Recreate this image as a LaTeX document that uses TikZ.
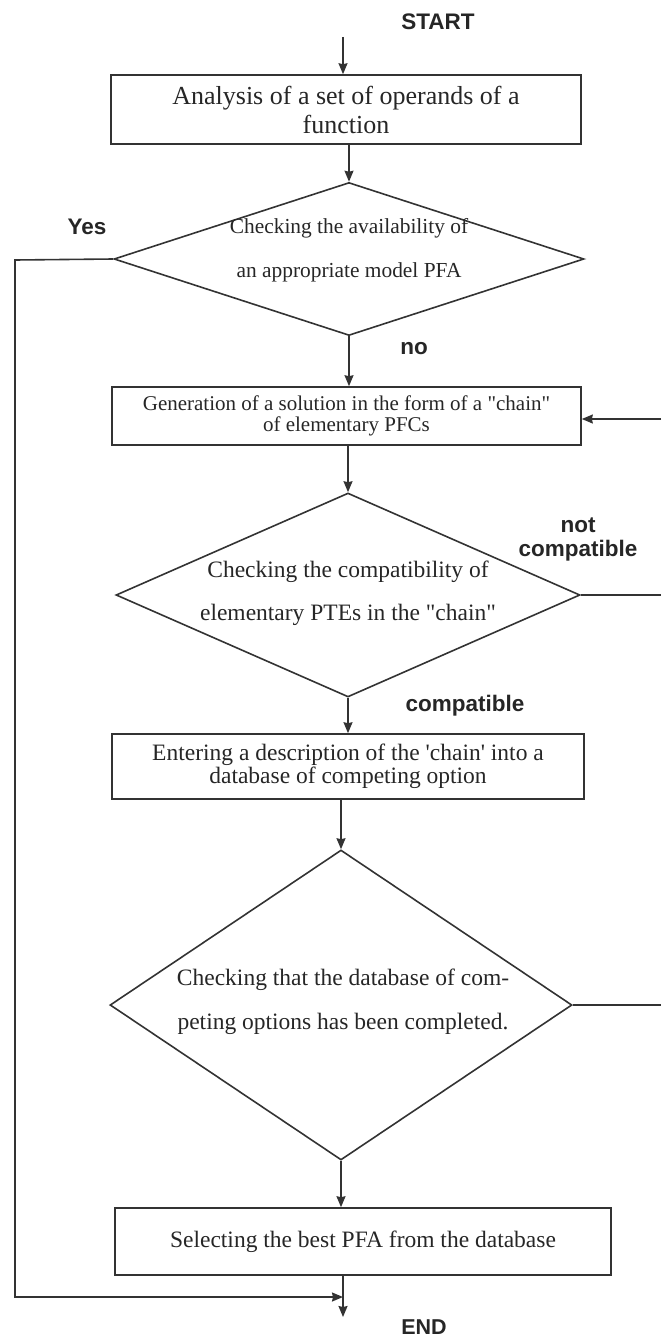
\documentclass[tikz,border=0pt]{standalone}
\usepackage{fontspec}
% straight quotes are wanted, so the TeX input mapping is switched off
\setmainfont{Liberation Serif}[Ligatures=TeXOff]
\newfontfamily\labelfont{Liberation Sans}
\usetikzlibrary{shapes.geometric,arrows.meta}
\begin{document}
\begin{tikzpicture}[x=1pt,y=-1pt,
  line width=1.6pt, draw=black!80,
  arr/.style={-{Stealth[length=11pt,width=9pt,inset=1pt]}},
  procbox/.style={draw, rectangle, inner sep=0pt, align=center},
  decision/.style={draw, diamond, inner sep=0pt},
  dtext/.style={align=center, inner sep=0pt, text=black!85},
  lbl/.style={font=\labelfont\bfseries\fontsize{22.5}{26}\selectfont, text=black!85, inner sep=0pt}]
\useasboundingbox (0,0) rectangle (661,1338);

% process steps
\node[procbox, minimum width=470pt, minimum height=69pt, text=black!85,
      font=\fontsize{26}{29}\selectfont] (b1) at (346,109.5)
  {Analysis of a set of operands of a\\function};
\node[procbox, minimum width=469pt, minimum height=58pt, text=black!85,
      font=\fontsize{21}{21}\selectfont] (b2) at (346.5,416)
  {Generation of a solution in the form of a "chain"\\of elementary PFCs};
\node[procbox, minimum width=472pt, minimum height=65pt, text=black!85,
      font=\fontsize{23.5}{23.5}\selectfont] (b3) at (348,766.5)
  {Entering a description of the 'chain' into a\\database of competing option};
\node[procbox, minimum width=496pt, minimum height=67pt, text=black!85,
      font=\fontsize{23.5}{26}\selectfont] (b4) at (363,1241.5)
  {Selecting the best PFA from the database};

% decisions (outline) and their texts
\node[decision, minimum width=470pt, minimum height=153pt] (d1) at (349,259) {};
\node[dtext, font=\fontsize{21.4}{44}\selectfont] (d1t) at (349,250)
  {Checking the availability of\\an appropriate model PFA};
\node[decision, minimum width=464pt, minimum height=204pt] (d2) at (348,595) {};
\node[dtext, font=\fontsize{23.5}{43}\selectfont] (d2t) at (348,593.5)
  {Checking the compatibility of\\elementary PTEs in the "chain"};
\node[decision, minimum width=462pt, minimum height=310pt] (d3) at (341,1005) {};
\node[dtext, font=\fontsize{23.5}{44}\selectfont] (d3t) at (343,1002)
  {Checking that the database of com-\\peting options has been completed.};

% labels
\node[lbl] (start) at (438,22) {START};
\node[lbl, font=\labelfont\bfseries\fontsize{21.5}{24}\selectfont] (end) at (424,1327) {END};
\node[lbl] (yes) at (87,227) {Yes};
\node[lbl] (no) at (414,349) {no};
\node[lbl, align=center, font=\labelfont\bfseries\fontsize{22.5}{24}\selectfont] (notc) at (578,539) {not\\compatible};
\node[lbl] (comp) at (465,706) {compatible};

% free ends of connectors
\coordinate (in) at (343,37);
\coordinate (out) at (343,1317);
\coordinate (ytop) at (15,260);
\coordinate (ybot) at (15,1297);
\coordinate (yend) at (343,1297);
\coordinate (r1) at (661,419);
\coordinate (r2) at (661,595);
\coordinate (r3) at (661,1005);

% main flow
\draw[arr] (in) -- (in |- b1.north);
\draw[arr] (b1.south -| d1.north) -- (d1.north);
\draw[arr] (d1.south) -- (d1.south |- b2.north);
\draw[arr] (b2.south -| d2.north) -- (d2.north);
\draw[arr] (d2.south) -- (d2.south |- b3.north);
\draw[arr] (b3.south -| d3.north) -- (d3.north);
\draw[arr] (d3.south) -- (d3.south |- b4.north);
\draw[arr] (b4.south -| out) -- (out);

% "Yes" bypass to the end
\draw[arr] (d1.west) -- (ytop) -- (ybot) -- (yend);

% loop-back connectors at the right
\draw[arr] (r1) -- (b2.east |- r1);
\draw (d2.east) -- (r2);
\draw (d3.east) -- (r3);
\end{tikzpicture}
\end{document}
